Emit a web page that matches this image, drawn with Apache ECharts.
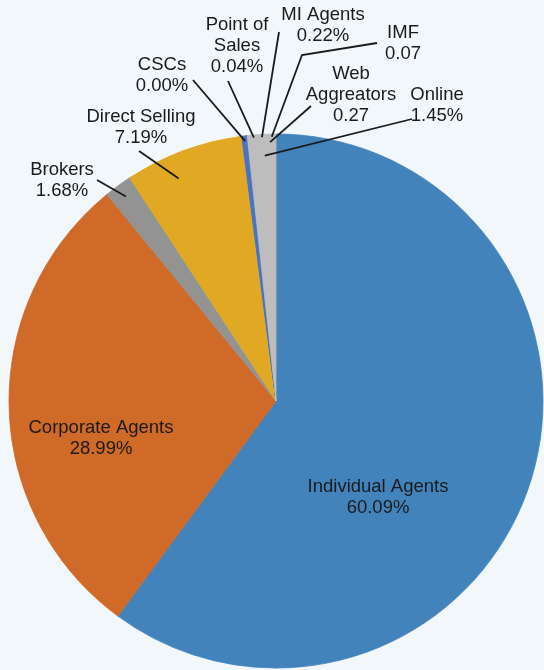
<!DOCTYPE html>
<html>
<head>
<meta charset="utf-8">
<script src="https://cdn.jsdelivr.net/npm/echarts@6/dist/echarts.min.js"></script>
<style>
html, body { margin: 0; padding: 0; background: #F2F7FB; }
#chart { width: 544px; height: 670px; }
</style>
</head>
<body>
<div id="chart"></div>
<script>
// channel shares (%), clockwise from 12 o'clock
const categories = ['Individual Agents', 'Corporate Agents', 'Brokers', 'Direct Selling', 'CSCs',
    'Point of Sales', 'MI Agents', 'IMF', 'Web Aggreators', 'Online'];
const shares = [60.09, 28.99, 1.68, 7.19, 0.00, 0.04, 0.22, 0.07, 0.27, 1.45];
const nameLines = ['Individual Agents', 'Corporate Agents', 'Brokers', 'Direct Selling', 'CSCs',
    'Point of\nSales', 'MI Agents', 'IMF', 'Web\nAggreators', 'Online'];
const valueTexts = ['60.09%', '28.99%', '1.68%', '7.19%', '0.00%', '0.04%', '0.22%', '0.07', '0.27', '1.45%'];

const color = {
    text: '#1A1A1A',
    line: '#1A1A1A',
    item: ['#4383BC', '#D06A28', '#939393', '#E1A823', '#4873C2', '#4873C2', '#4873C2', '#4873C2', '#BDBDBD', '#BDBDBD'],
};
const center = [276, 401];
const radius = 267;

// where each label sits: text centre, guide end near text, optional elbow,
// guide start as (fraction of radius, angle nudge in degrees)
const spots = [
    { at: [378, 497] },
    { at: [101, 438] },
    { at: [62, 180], end: [97, 180], f: 0.95, nudge: 0 },
    { at: [141, 127], end: [139, 151], f: 0.91, nudge: -3.3 },
    { at: [162, 75], end: [193, 80], f: 0.98, nudge: 0.6 },
    { at: [237, 46], end: [228, 81], f: 0.99, nudge: 2.5 },
    { at: [323, 25], end: [279, 32], f: 0.99, nudge: 3.8 },
    { at: [403, 43], end: [377, 43], elbow: [302, 55], f: 0.99, nudge: 5.4 },
    { at: [351, 95], end: [311, 106], f: 0.97, nudge: 4.4 },
    { at: [437, 105], end: [412, 119], f: 0.92, nudge: 0 },
];

const total = shares.reduce((a, b) => a + b, 0);
const midAngles = (function () {
    let res = [];
    let cum = 0;
    shares.forEach(v => {
        res.push(360 * (cum + v / 2) / total);
        cum += v;
    });
    return res;
})();

const guideStart = function (i) {
    const s = spots[i];
    const a = (midAngles[i] + s.nudge) * Math.PI / 180;
    return [center[0] + s.f * radius * Math.sin(a), center[1] - s.f * radius * Math.cos(a)];
};

const guides = function () {
    let res = [];
    spots.forEach((s, i) => {
        if (!s.end) return;
        const pts = [guideStart(i)];
        if (s.elbow) pts.push(s.elbow);
        pts.push(s.end);
        res.push({
            type: 'polyline',
            z: 10,
            silent: true,
            shape: { points: pts },
            style: { stroke: color.line, lineWidth: 1.8, fill: null },
        });
    });
    return res;
};

const chart = echarts.init(document.getElementById('chart'));
chart.setOption({
    backgroundColor: '#F2F7FB',
    animation: false,
    color: color.item,
    graphic: { elements: guides() },
    series: [{
        type: 'pie',
        center: center,
        radius: radius,
        startAngle: 90,
        clockwise: true,
        avoidLabelOverlap: false,
        minShowLabelAngle: 0,
        stillShowZeroSum: true,
        emphasis: { disabled: true },
        label: {
            show: true,
            position: 'outside',
            color: color.text,
            fontFamily: 'Liberation Sans, Arial, sans-serif',
            fontSize: 18.5,
            lineHeight: 21,
            align: 'center',
            formatter: p => nameLines[p.dataIndex] + '\n' + valueTexts[p.dataIndex],
        },
        labelLine: { show: false },
        labelLayout: function (params) {
            const s = spots[params.dataIndex];
            return { x: s.at[0], y: s.at[1], align: 'center', verticalAlign: 'middle' };
        },
        data: categories.map((name, i) => ({
            name: name,
            value: shares[i],
            // thin own-colour edge hides the anti-alias seams between slivers
            itemStyle: { borderWidth: shares[i] > 0 ? 0.8 : 0, borderColor: color.item[i] },
        })),
    }],
});
</script>
</body>
</html>
